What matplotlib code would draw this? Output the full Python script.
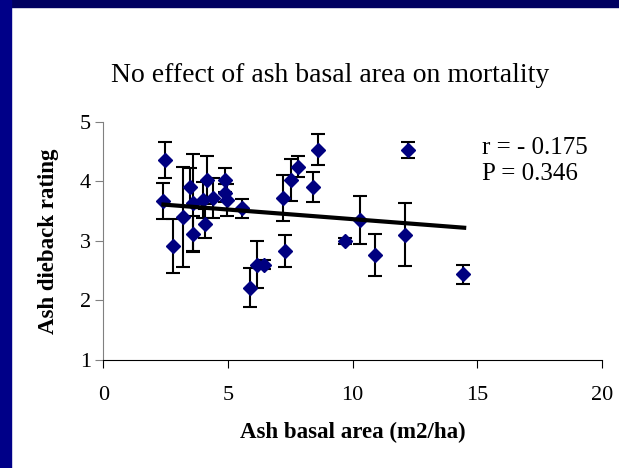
import matplotlib.pyplot as plt
import numpy as np
from matplotlib.patches import Rectangle

# basal area (m2/ha), dieback rating and its error
basal_area = [2.47, 2.41, 2.81, 3.21, 3.48, 3.61, 3.61, 4.15, 4.01, 4.08,
              4.41, 4.88, 4.88, 4.95, 5.57, 5.89, 6.16, 6.45, 7.29, 7.20,
              7.53, 7.83, 8.43, 8.63, 9.70, 10.31, 10.91, 12.11, 12.22, 14.43]
dieback = [4.36, 3.67, 2.91, 3.40, 3.91, 3.64, 3.11, 4.02, 3.69, 3.29,
           3.72, 4.02, 3.81, 3.69, 3.55, 2.21, 2.60, 2.60, 2.83, 3.72,
           4.02, 4.25, 3.91, 4.53, 3.00, 3.35, 2.76, 3.10, 4.53, 2.44]
err = [0.30, 0.31, 0.45, 0.84, 0.32, 0.82, 0.30, 0.40, 0.30, 0.24,
       0.34, 0.20, 0.15, 0.27, 0.16, 0.33, 0.40, 0.08, 0.27, 0.38,
       0.35, 0.17, 0.25, 0.26, 0.05, 0.41, 0.35, 0.53, 0.13, 0.16]

# trend line ends
trend_x = [2.41, 14.48]
trend_y = [3.61, 3.22]

plt.rcParams['font.family'] = ['Liberation Serif', 'DejaVu Serif']

fig = plt.figure(figsize=(6.19, 4.68), dpi=100)
fig.patch.set_facecolor('white')

# slide frame
fig.add_artist(Rectangle((0, 1 - 7/468), 1, 7/468, transform=fig.transFigure,
                         color='#000060', zorder=0))
fig.add_artist(Rectangle((0, 0), 11/619, 1, transform=fig.transFigure,
                         color='#000088', zorder=0))

ax = fig.add_axes([103.4/619, 1 - 359.6/468, 498.3/619, 237.6/468])
ax.errorbar(basal_area, dieback, yerr=err, fmt='D', color='#000080',
            markersize=7.5, ecolor='black', elinewidth=1.5, capsize=5,
            capthick=1.5, zorder=3)
ax.plot(trend_x, trend_y, color='black', linewidth=3, zorder=4)

ax.set_xlim(0, 20)
ax.set_ylim(1, 5)
ax.set_xticks([0, 5, 10, 15, 20])
ax.set_yticks([1, 2, 3, 4, 5])
ax.spines['top'].set_visible(False)
ax.spines['right'].set_visible(False)
ax.spines['left'].set_color('#808080')
ax.tick_params(direction='out', length=6, labelsize=16)
ax.tick_params(axis='x', pad=13)
ax.tick_params(axis='y', colors='#808080', labelcolor='black', pad=3)

ax.set_xlabel('Ash basal area (m2/ha)', fontsize=16.5, fontweight='bold', labelpad=12)
ax.set_ylabel('Ash dieback rating', fontsize=16.5, fontweight='bold', labelpad=15)

fig.text(330/619, 1 - 75/468, 'No effect of ash basal area on mortality',
         ha='center', va='center', fontsize=20)
ax.text(15.2, 4.56, 'r = - 0.175', fontsize=18, va='center')
ax.text(15.2, 4.13, 'P = 0.346', fontsize=18, va='center')

fig.savefig('out.png', dpi=100)
